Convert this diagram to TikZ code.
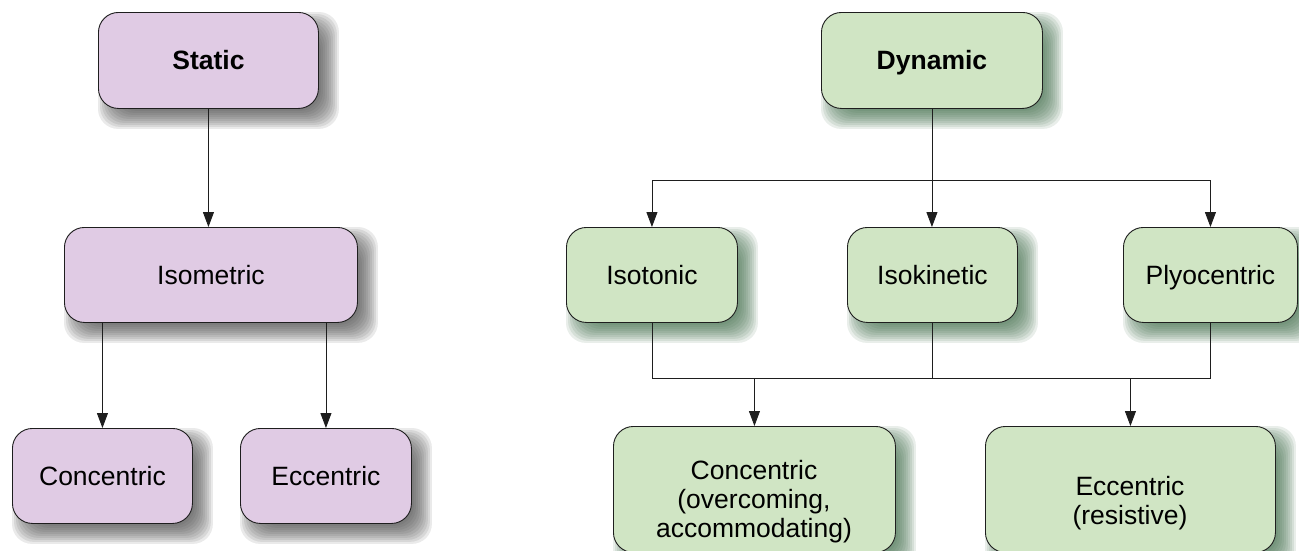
\documentclass[tikz,border=0pt]{standalone}
\usepackage{fontspec}
\setmainfont{Liberation Sans}
\usetikzlibrary{arrows.meta,backgrounds}
\definecolor{pfill}{RGB}{224,203,228}
\definecolor{gfill}{RGB}{208,229,196}
\definecolor{pshadow}{RGB}{70,70,70}
\definecolor{gshadow}{RGB}{60,105,70}
\definecolor{lineclr}{RGB}{30,30,30}
\tikzset{
  box/.style={draw=lineclr, line width=0.9pt, rounded corners=20pt, align=center, inner sep=0pt, anchor=north west, font=\fontsize{26.5}{29}\selectfont, text height=20pt, text depth=1pt},
  pbox/.style={box, fill=pfill},
  gbox/.style={box, fill=gfill},
  conn/.style={draw=lineclr, line width=0.9pt},
  arr/.style={conn, -{Triangle[length=15pt,width=11pt]}},
  lbl/.style={align=center, font=\fontsize{26.5}{29}\selectfont, inner sep=0pt},
}
\newcommand\boxshadow[2]{%
  \foreach \r in {-8,-6,...,10}{%
    \fill[#2, opacity=0.115, rounded corners=20pt] ([shift={({10-(\r)},{10-(\r)})}]#1.north west) rectangle ([shift={({10+(\r)},{10+(\r)})}]#1.south east);
  }}
\begin{document}
\begin{tikzpicture}[x=1pt,y=-1pt]
\useasboundingbox (0,0) rectangle (1299,550);
% left tree
\node[pbox, minimum width=220, minimum height=96] (static) at (98,12) {\textbf{Static}};
\node[pbox, minimum width=293, minimum height=95] (isometric) at (64,227) {Isometric};
\node[pbox, minimum width=180, minimum height=95] (concL) at (12,428) {Concentric};
\node[pbox, minimum width=171, minimum height=95] (eccL) at (240,428) {Eccentric};
% right tree
\node[gbox, minimum width=221, minimum height=96] (dynamic) at (821,12) {\textbf{Dynamic}};
\node[gbox, minimum width=171, minimum height=95] (isotonic) at (566,227) {Isotonic};
\node[gbox, minimum width=170, minimum height=95] (isokinetic) at (847,227) {Isokinetic};
\node[gbox, minimum width=174, minimum height=95] (plyo) at (1123,227) {Plyocentric};
\node[gbox, minimum width=282, minimum height=126] (concR) at (613,426) {};
\node[gbox, minimum width=290, minimum height=126] (eccR) at (985,426) {};
\node[lbl] (concRtext) at (754,502) {Concentric\\(overcoming,\\accommodating)};
\node[lbl] (eccRtext) at (1130,503) {Eccentric\\(resistive)};
% shadows
\begin{scope}[on background layer]
\boxshadow{static}{pshadow}
\boxshadow{isometric}{pshadow}
\boxshadow{concL}{pshadow}
\boxshadow{eccL}{pshadow}
\boxshadow{dynamic}{gshadow}
\boxshadow{isotonic}{gshadow}
\boxshadow{isokinetic}{gshadow}
\boxshadow{plyo}{gshadow}
\boxshadow{concR}{gshadow}
\boxshadow{eccR}{gshadow}
\end{scope}
% connectors left
\draw[arr] (static.south) -- (static.south |- isometric.north);
\draw[arr] (concL.north |- isometric.south) -- (concL.north);
\draw[arr] (eccL.north |- isometric.south) -- (eccL.north);
% connectors right
\coordinate (dbar) at (931,180);
\coordinate (bbar) at (931,378);
\draw[conn] (dynamic.south) -- (dynamic.south |- dbar);
\draw[arr] (dynamic.south) -- (dynamic.south |- isokinetic.north);
\draw[arr] (dynamic.south |- dbar) -| (isotonic.north);
\draw[arr] (dynamic.south |- dbar) -| (plyo.north);
\draw[conn] (isotonic.south) |- (plyo.south |- bbar) -- (plyo.south);
\draw[conn] (isokinetic.south) -- (isokinetic.south |- bbar);
\draw[arr] (concR.north |- bbar) -- (concR.north);
\draw[arr] (eccR.north |- bbar) -- (eccR.north);
\end{tikzpicture}
\end{document}
